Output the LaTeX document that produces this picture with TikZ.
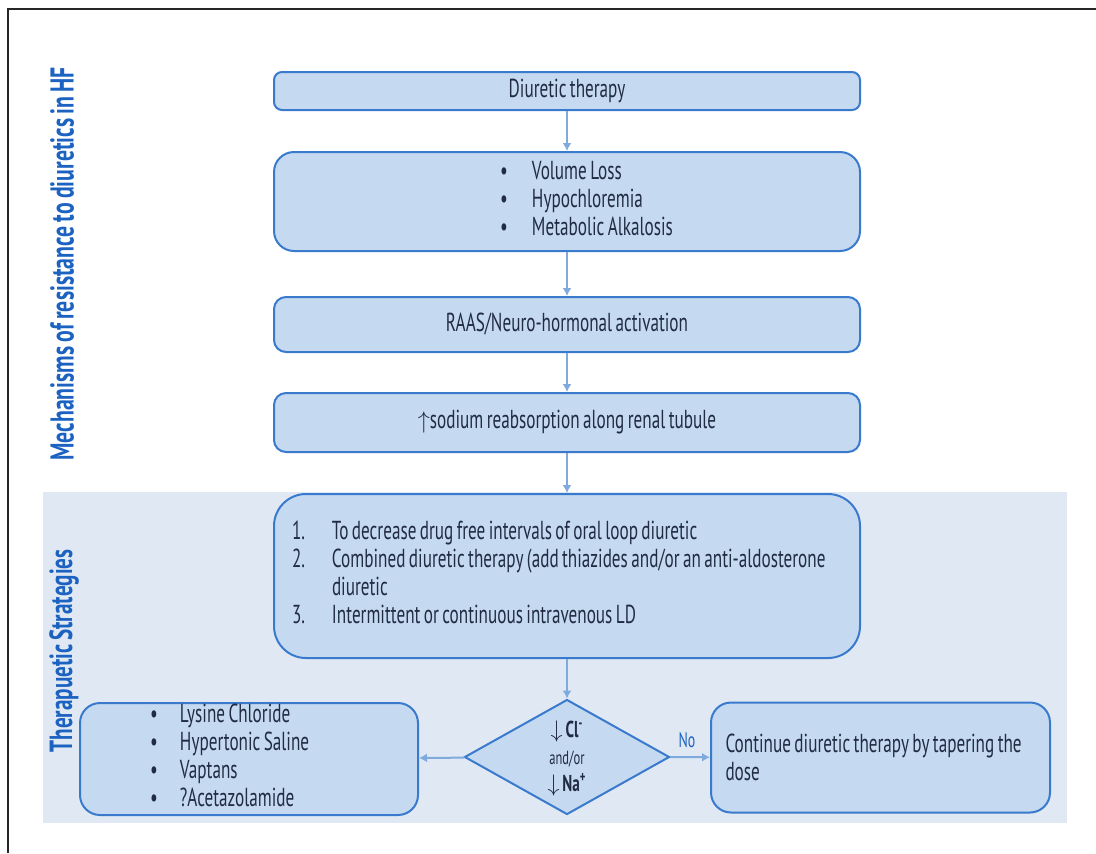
\documentclass[tikz,border=0pt]{standalone}
\usepackage{fontspec}
\setmainfont{PT Sans}[FakeStretch=0.66, WordSpace=0.75]
\usetikzlibrary{shapes.geometric,arrows.meta}

\definecolor{boxfill}{RGB}{197,217,241}
\definecolor{boxline}{RGB}{58,122,205}
\definecolor{boxtext}{RGB}{33,44,66}
\definecolor{arrowblue}{RGB}{128,170,222}
\definecolor{bandfill}{RGB}{224,232,243}
\definecolor{titleblue}{RGB}{28,98,192}

\tikzset{
  box/.style={draw=boxline, fill=boxfill, line width=1pt, rounded corners=#1,
    text=boxtext, font=\fontsize{13}{14}\selectfont, inner sep=0pt},
  box/.default=5pt,
  flow/.style={draw=arrowblue, line width=1pt, -{Latex[length=4pt,width=4.5pt]}},
  sidetitle/.style={rotate=90, text=titleblue, font=\fontsize{16.5}{18}\selectfont\bfseries},
}

\begin{document}
\begin{tikzpicture}[x=0.5pt,y=-0.5pt]
\useasboundingbox (0,0) rectangle (1096,853);
\draw[line width=0.8pt, black!85] (8,853) -- (8,9) -- (1096,9);
\fill[bandfill] (43,492) rectangle (1067,823);

\node[sidetitle] (mechtitle) at (62,264) {Mechanisms of resistance to diuretics in HF};
\node[sidetitle, font=\fontsize{16}{17}\selectfont\bfseries] (strattitle) at (64,651) {Therapuetic Strategies};

\node[box=4pt, minimum width=293pt, minimum height=19pt] (therapy) at (567,91) {Diuretic therapy};
\node[box=10pt, minimum width=293pt, minimum height=49.5pt, text width=275pt, align=flush left] (losses) at (567,201.5)
  {\begin{tabular}{@{\hspace{104pt}}p{16pt}@{}l@{}}
   \textbullet & Volume Loss\\
   \textbullet & Hypochloremia\\
   \textbullet & Metabolic Alkalosis
   \end{tabular}};
\node[box=6pt, minimum width=293pt, minimum height=27.5pt] (raas) at (567,324.5) {RAAS/Neuro-hormonal activation};
\node[box=6pt, minimum width=293pt, minimum height=29.5pt] (sodium) at (567,422.5) {$\uparrow$sodium reabsorption along renal tubule};

\node[box=16pt, minimum width=293pt, minimum height=82pt, text width=275pt, align=flush left] (strategy) at (567,576)
  {\begin{tabular}{@{}p{20pt}@{}l@{}}
   1. & To decrease drug free intervals of oral loop diuretic\\
   2. & Combined diuretic therapy (add thiazides and/or an anti-aldosterone\\
      & diuretic\\
   3. & Intermittent or continuous intravenous LD
   \end{tabular}};

\node[diamond, draw=boxline, fill=boxfill, line width=1pt, inner sep=0pt,
  minimum width=102.5pt, minimum height=57.5pt] (check) at (567,757) {};
\node[text=boxtext, align=center, font=\fontsize{11.5}{13.5}\selectfont, inner sep=0pt] (checktext) at (567,758)
  {{\bfseries$\downarrow$ Cl\textsuperscript{-}}\\ {\fontsize{9.5}{13.5}\selectfont and/or}\\ {\bfseries$\downarrow$ Na\textsuperscript{+}}};

\node[box=10pt, minimum width=169pt, minimum height=55pt, text width=155pt, align=flush left] (remedies) at (249,759)
  {\begin{tabular}{@{\hspace{28pt}}p{15pt}@{}l@{}}
   \textbullet & Lysine Chloride\\
   \textbullet & Hypertonic Saline\\
   \textbullet & Vaptans\\
   \textbullet & ?Acetazolamide
   \end{tabular}};
\node[box=10pt, minimum width=169.5pt, minimum height=55pt, text width=155pt, align=flush left] (taper) at (880.5,757.5)
  {Continue diuretic therapy by tapering the\\ dose};

\draw[flow] (therapy) -- (losses);
\draw[flow] (losses) -- (raas);
\draw[flow] (raas) -- (sodium);
\draw[flow] (sodium) -- (strategy);
\draw[flow] (strategy) -- (check);
\draw[flow] (check) -- (remedies);
\draw[flow] (check) -- (taper);
\node[text=titleblue, font=\fontsize{10.5}{12}\selectfont] (nolabel) at (687,740) {No};
\end{tikzpicture}
\end{document}
